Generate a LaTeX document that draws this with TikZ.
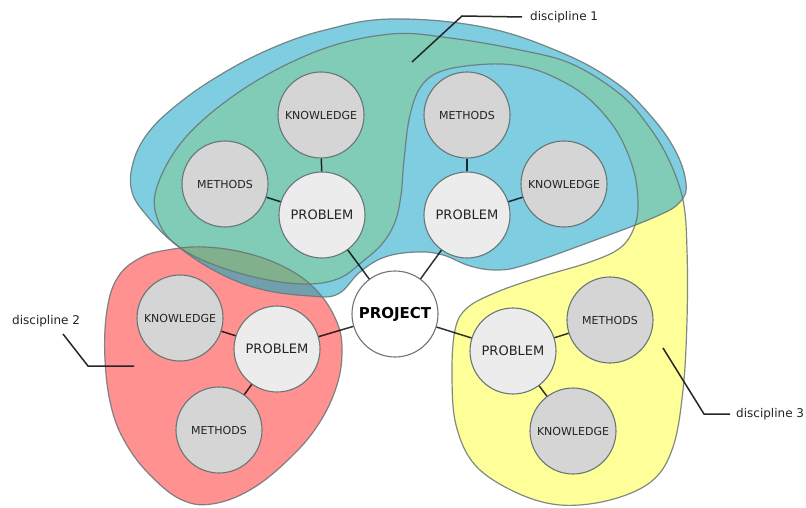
\documentclass[tikz,border=0pt]{standalone}
\usepackage{fontspec}
\setmainfont{DejaVu Sans}
\definecolor{cblue}{RGB}{126,205,224}
\definecolor{cgreen}{RGB}{128,204,182}
\definecolor{cyellow}{RGB}{255,255,153}
\definecolor{cred}{RGB}{255,145,145}
\definecolor{csteel}{RGB}{112,160,174}
\definecolor{colive}{RGB}{128,176,140}
\definecolor{grayfill}{RGB}{213,213,213}
\definecolor{probfill}{RGB}{236,236,236}
\definecolor{lineg}{RGB}{105,118,118}
\definecolor{txt}{RGB}{35,35,35}
\begin{document}
\begin{tikzpicture}[x=1pt,y=-1pt,
  edge/.style={draw=black, draw opacity=0.8, line width=1.5pt},
  outline/.style={draw=lineg, line width=1.2pt, draw opacity=0.85},
  kbox/.style={circle, draw=lineg, line width=1.1pt, fill=grayfill, minimum size=86pt, inner sep=0pt, font=\fontsize{11}{13}\selectfont, text=txt},
  pbox/.style={kbox, fill=probfill, font=\fontsize{13}{15}\selectfont},
  projbox/.style={kbox, fill=white, font=\bfseries\fontsize{15}{17}\selectfont, text=black},
  lbl/.style={font=\fontsize{12}{14}\selectfont, text=txt, anchor=west, inner sep=0pt},
  leader/.style={draw=black!85, line width=1.5pt}
]
\useasboundingbox (0,0) rectangle (806,508);
\clip (0,0) rectangle (806,508);
\fill[white] (0,0) rectangle (806,508);
\def\bluepath{plot[smooth cycle, tension=0.65] coordinates {
 (391,19) (483,27) (560,52) (615,82) (650,115) (675,150) (686,183) (680,202) (655,217)
 (590,242) (525,265) (497,270) (470,266) (443,255) (417,252) (385,257) (360,272)
 (338,294) (310,296) (260,289) (215,271) (175,244) (148,217) (132,192) (133,163)
 (148,133) (178,104) (220,75) (270,49) (325,30)}}
\def\yellowpath{plot[smooth cycle, tension=0.6] coordinates {
 (560,505) (610,500) (652,481) (673,447) (683,390) (687,320) (687,250) (683,200)
 (668,158) (647,124) (620,94) (572,64) (520,50) (450,38) (391,34) (320,50) (245,88)
 (185,138) (156,190) (160,225) (182,249) (220,267) (268,280) (310,284) (340,278)
 (362,262) (382,244) (395,222) (401,195) (404,160) (410,115) (422,85) (445,70)
 (490,64) (525,67) (556,78) (588,98) (616,130) (633,168) (638,203) (634,228)
 (620,248) (590,262) (540,277) (497,292) (467,308) (455,330) (452,375) (456,425)
 (475,465) (515,492)}}
\def\redpath{plot[smooth cycle, tension=0.65] coordinates {
 (167,250) (205,247) (250,254) (290,270) (318,292) (336,320) (342,348) (337,385)
 (318,425) (288,460) (250,490) (212,504) (182,500) (153,478) (128,447) (112,410)
 (105,360) (107,310) (118,277) (140,258)}}
% fills
\fill[cyellow] \yellowpath;
\fill[cred] \redpath;
\fill[cblue] \bluepath;
\begin{scope}
  \clip \bluepath;
  \fill[cgreen] \yellowpath;
  \fill[csteel] \redpath;
  \begin{scope}
    \clip \yellowpath;
    \fill[colive] \redpath;
  \end{scope}
\end{scope}
% outlines
\draw[outline] \yellowpath;
\draw[outline] \redpath;
\draw[outline] \bluepath;
% nodes
\node[projbox] (proj) at (395,314) {PROJECT};
\node[pbox] (p1) at (322,215) {PROBLEM};
\node[kbox] (k1) at (321,115) {KNOWLEDGE};
\node[kbox] (m1) at (225,184) {METHODS};
\node[pbox] (p2) at (467,215) {PROBLEM};
\node[kbox] (m2) at (467,115) {METHODS};
\node[kbox] (k2) at (564,184) {KNOWLEDGE};
\node[pbox] (p3) at (277,349) {PROBLEM};
\node[kbox] (k3) at (180,318) {KNOWLEDGE};
\node[kbox] (m3) at (219,430) {METHODS};
\node[pbox] (p4) at (513,351) {PROBLEM};
\node[kbox] (m4) at (610,320) {METHODS};
\node[kbox] (k4) at (573,431) {KNOWLEDGE};
% connectors
\draw[edge] (p1) -- (k1);
\draw[edge] (p1) -- (m1);
\draw[edge] (p1) -- (proj);
\draw[edge] (p2) -- (m2);
\draw[edge] (p2) -- (k2);
\draw[edge] (p2) -- (proj);
\draw[edge] (p3) -- (k3);
\draw[edge] (p3) -- (m3);
\draw[edge] (p3) -- (proj);
\draw[edge] (p4) -- (m4);
\draw[edge] (p4) -- (k4);
\draw[edge] (p4) -- (proj);
% labels
\node[lbl] (d1) at (530,17) {discipline 1};
\node[lbl] (d2) at (12,321) {discipline 2};
\node[lbl] (d3) at (736,414) {discipline 3};
\coordinate (d1a) at (462,16);
\coordinate (d1b) at (412,62);
\coordinate (d2s) at (63,334);
\coordinate (d2m) at (88,366);
\coordinate (d2e) at (134,366);
\coordinate (d3s) at (663,348);
\coordinate (d3m) at (704,414);
\draw[leader] ([xshift=-8pt]d1.west) -- (d1a) -- (d1b);
\draw[leader] (d2s) -- (d2m) -- (d2e);
\draw[leader] (d3s) -- (d3m) -- ([xshift=-6pt]d3.west);
\end{tikzpicture}
\end{document}
